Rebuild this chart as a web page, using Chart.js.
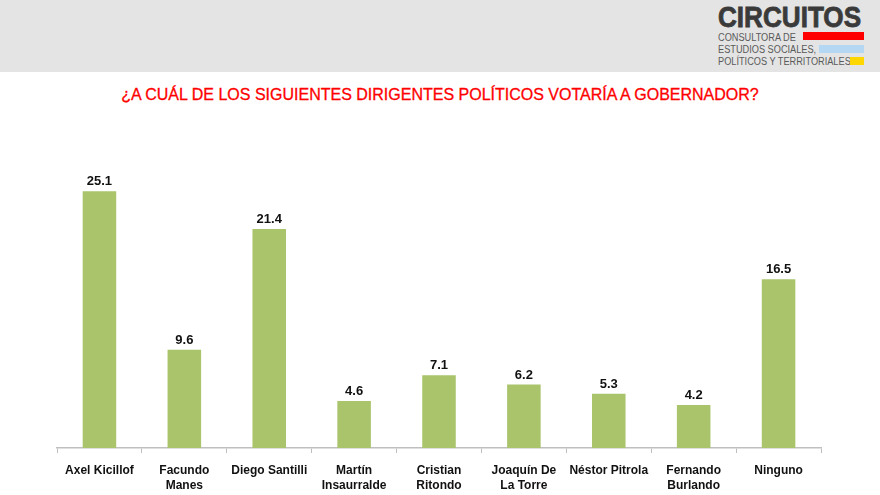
<!DOCTYPE html>
<html>
<head>
<meta charset="utf-8">
<script src="https://cdn.jsdelivr.net/npm/chart.js@4.4.0/dist/chart.umd.min.js"></script>
<style>
  html, body { margin: 0; padding: 0; background: #fff; }
  #page { position: relative; width: 880px; height: 495px; overflow: hidden; font-family: "Liberation Sans", Arial, sans-serif; }
  #header { position: absolute; left: 0; top: 0; width: 880px; height: 72px; background: #e4e4e4; }
  #logo { position: absolute; left: 718px; top: 0; width: 150px; height: 72px; }
  #logo .big { position: absolute; left: 0; top: 1px; font-size: 29px; font-weight: bold; color: #3a3a3a; transform: scaleX(0.9); transform-origin: left top; -webkit-text-stroke: 0.8px #3a3a3a; }
  #logo .ln { position: absolute; left: 0; font-size: 10px; color: #5a5a5a; white-space: nowrap; transform: scaleX(0.92); transform-origin: left top; }
  #logo .bar { position: absolute; height: 8px; }
  #title { position: absolute; left: 0; top: 86px; width: 880px; text-align: center; color: #ff0000; font-size: 16px; -webkit-text-stroke: 0.3px #ff0000; }
  #wrap { position: absolute; left: 0; top: 72px; width: 880px; height: 431px; }
</style>
</head>
<body>
<div id="page">
  <div id="header"></div>
  <div id="logo">
    <div class="big">CIRCUITOS</div>
    <div class="ln" style="top:32px">CONSULTORA DE</div>
    <div class="bar" style="left:85px;top:32px;width:61px;background:#ff0000"></div>
    <div class="ln" style="top:44px">ESTUDIOS SOCIALES,</div>
    <div class="bar" style="left:101px;top:45px;width:45px;background:#b4d8f4"></div>
    <div class="ln" style="top:56px">POLÍTICOS Y TERRITORIALES</div>
    <div class="bar" style="left:132px;top:57px;width:14px;background:#ffd700"></div>
  </div>
  <div id="title">¿A CUÁL DE LOS SIGUIENTES DIRIGENTES POLÍTICOS VOTARÍA A GOBERNADOR?</div>
  <div id="wrap"><canvas id="myChart"></canvas></div>
</div>
<script>
var candidatos = [
  ["Axel Kicillof"],
  ["Facundo", "Manes"],
  ["Diego Santilli"],
  ["Martín", "Insaurralde"],
  ["Cristian", "Ritondo"],
  ["Joaquín De", "La Torre"],
  ["Néstor Pitrola"],
  ["Fernando", "Burlando"],
  ["Ninguno"]
]
var votos = [25.1, 9.6, 21.4, 4.6, 7.1, 6.2, 5.3, 4.2, 16.5]

// etiquetas de valor encima de cada barra
var valueLabels = {
  id: 'valueLabels',
  afterDatasetsDraw: function(chart) {
    var ctx = chart.ctx
    var meta = chart.getDatasetMeta(0)
    ctx.save()
    ctx.font = 'bold 13px "Liberation Sans", Arial, sans-serif'
    ctx.fillStyle = '#111'
    ctx.textAlign = 'center'
    ctx.textBaseline = 'alphabetic'
    meta.data.forEach(function(bar, i) {
      ctx.fillText(votos[i].toFixed(1), bar.x, bar.y - 6)
    })
    ctx.restore()
  }
}

var myChart = document.getElementById("myChart").getContext('2d')
var chart = new Chart(myChart, {
  type: 'bar',
  data: {
    labels: candidatos,
    datasets: [{
      data: votos,
      backgroundColor: "#a9c46b",
      barPercentage: 0.79,
      categoryPercentage: 0.5
    }]
  },
  options: {
    responsive: true,
    maintainAspectRatio: false,
    animation: false,
    layout: { padding: { left: 57, right: 59, top: 69, bottom: 0 } },
    plugins: {
      legend: { display: false },
      tooltip: { enabled: false }
    },
    scales: {
      y: { display: false, min: 0, max: 30 },
      x: {
        grid: { display: true, drawOnChartArea: false, drawTicks: true, tickLength: 5, color: '#bfbfbf', offset: true },
        border: { display: true, color: '#bfbfbf', width: 1.5 },
        ticks: {
          color: '#111',
          maxRotation: 0,
          autoSkip: false,
          padding: 10,
          font: { family: '"Liberation Sans", Arial, sans-serif', size: 12, weight: 'bold', lineHeight: 1.25 }
        }
      }
    }
  },
  plugins: [valueLabels]
})
</script>
</body>
</html>
